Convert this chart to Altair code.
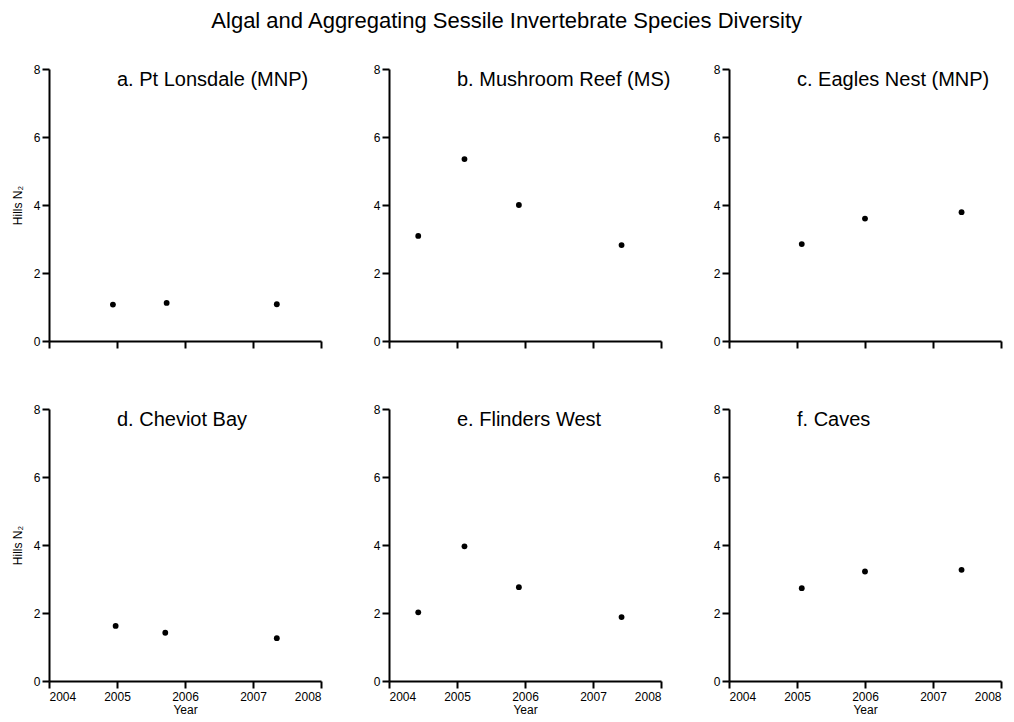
import altair as alt
import pandas as pd

# ---- data ----
panel_titles = [
    "a. Pt Lonsdale (MNP)",
    "b. Mushroom Reef (MS)",
    "c. Eagles Nest (MNP)",
    "d. Cheviot Bay",
    "e. Flinders West",
    "f. Caves",
]

years_a = [2004.94, 2005.73, 2007.35]
vals_a = [1.07, 1.12, 1.08]

years_b = [2004.43, 2005.11, 2005.91, 2007.42]
vals_b = [3.09, 5.35, 4.00, 2.82]

years_c = [2005.07, 2006.00, 2007.42]
vals_c = [2.85, 3.60, 3.79]

years_d = [2004.98, 2005.71, 2007.35]
vals_d = [1.62, 1.42, 1.26]

years_e = [2004.43, 2005.11, 2005.91, 2007.42]
vals_e = [2.02, 3.96, 2.76, 1.88]

years_f = [2005.07, 2006.00, 2007.42]
vals_f = [2.73, 3.22, 3.27]

year_ticks = [2004, 2005, 2006, 2007, 2008]
y_ticks = [0, 2, 4, 6, 8]

FONT = "Liberation Sans"

series = [
    (years_a, vals_a), (years_b, vals_b), (years_c, vals_c),
    (years_d, vals_d), (years_e, vals_e), (years_f, vals_f),
]

panels = []
for i, ((yrs, vals), ttl) in enumerate(zip(series, panel_titles)):
    bottom = i >= 3
    left = i % 3 == 0
    df = pd.DataFrame({"year": yrs, "n2": vals})
    x_axis = alt.Axis(
        values=year_ticks,
        format="d",
        labels=bottom,
        title="Year" if bottom else None,
        domainWidth=2, tickWidth=2,
    )
    y_axis = alt.Axis(
        values=y_ticks,
        title="Hills N₂" if left else None,
        domainWidth=2, tickWidth=2,
    )
    pts = alt.Chart(df).mark_circle(size=34, color="black", opacity=1).encode(
        x=alt.X("year:Q", scale=alt.Scale(domain=[2004, 2008], nice=False), axis=x_axis),
        y=alt.Y("n2:Q", scale=alt.Scale(domain=[0, 8], nice=False), axis=y_axis),
    )
    txt = alt.Chart(pd.DataFrame({"t": [ttl]})).mark_text(
        align="left", baseline="alphabetic", fontSize=20, font=FONT, color="black"
    ).encode(x=alt.value(68), y=alt.value(17), text="t:N")
    panels.append(alt.layer(pts, txt).properties(width=272, height=272))

chart = alt.concat(*panels, columns=3, spacing=68, bounds="flush").properties(
    title=alt.TitleParams(
        "Algal and Aggregating Sessile Invertebrate Species Diversity",
        fontSize=22, font=FONT, fontWeight="normal", color="black",
        anchor="middle", offset=30,
    ),
    padding={"left": 11, "top": 10, "right": 5, "bottom": 5},
).configure_view(stroke=None).configure_axis(
    domainColor="black", domainWidth=2, tickColor="black", tickWidth=2, tickSize=7,
    labelFont=FONT, labelFontSize=12, labelColor="black", labelPadding=3,
    titleFont=FONT, titleFontSize=12, titleFontWeight="normal", titleColor="black",
    grid=False,
).configure_axisY(titlePadding=9, labelPadding=2).configure_axisX(titlePadding=2)

chart.save("out.html", embed_options={"renderer": "svg", "actions": False})
